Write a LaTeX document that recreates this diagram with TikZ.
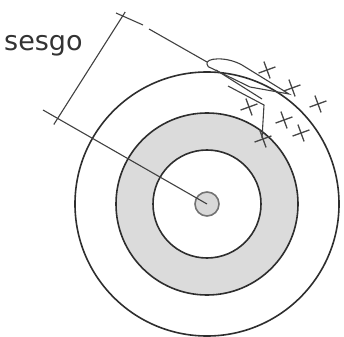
\documentclass[tikz,border=0pt]{standalone}
\usepackage{fontspec}
\setmainfont{DejaVu Sans}
\begin{document}
\begin{tikzpicture}[x=1pt,y=-1pt,
  ring/.style={draw=black!82,line width=1.6pt},
  thin/.style={draw=black!75,line width=1.1pt},
  shot/.style={draw=black!72,line width=1.3pt},
  lbl/.style={text=black!80,font=\fontsize{27}{30}\selectfont,inner sep=0pt,anchor=base west}]
\useasboundingbox (0,0) rectangle (344,336);
\coordinate (C) at (207,204);
% target rings
\fill[black!14,even odd rule] (C) circle (91) (C) circle (54);
\draw[ring] (C) circle (132);
\draw[ring] (C) circle (91);
\draw[ring] (C) circle (54);
\draw[draw=black!55,fill=black!15,line width=1.6pt] (C) circle (12);
% label
\node[lbl] (sesgo) at (4,51) {sesgo};
% centre line and dimension
\coordinate (cl) at (43,110);
\coordinate (d1) at (53.8,124.5);
\coordinate (d2) at (125.2,12);
\coordinate (e1) at (116,13);
\coordinate (g1) at (143,25);
\coordinate (g2) at (149,29);
\coordinate (tip) at (207,62);
\draw[thin] (C) -- (cl);
\draw[thin] (d1) -- (d2);
\draw[thin] (e1) -- (g1);
\draw[thin] (g2) -- (tip);
% loop around the shots
\draw[thin] (207,64) .. controls (205,58) and (226,56) .. (242,65) -- (289,94)
  -- (250,87) -- (211,68) .. controls (208,67) .. cycle;
\draw[thin] (216,70) -- (262,99);
\draw[thin] (228,86) -- (264,105) -- (262,138);
% shots
\foreach \p in {{(267,70)},{(292,88)},{(318,104)},{(249,107)},{(284,120)},{(301,133)},{(263,139)}}{
  \draw[shot,shift={\p},rotate=20] (-9,0) -- (9,0) (0,-9) -- (0,9);
}
\end{tikzpicture}
\end{document}
